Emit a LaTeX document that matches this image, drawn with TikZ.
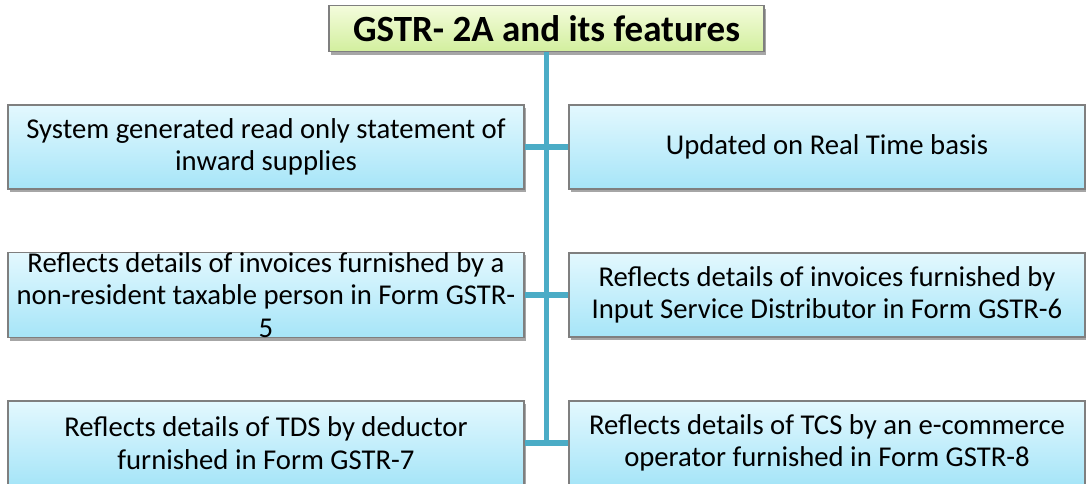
\documentclass[tikz,border=0pt]{standalone}
\usepackage{fontspec}
\setmainfont{Carlito}
\usetikzlibrary{shadows}
\definecolor{linec}{HTML}{4BACC6}
\definecolor{boxtop}{HTML}{E3F8FE}
\definecolor{boxbot}{HTML}{A6E5F8}
\definecolor{ttop}{HTML}{F4FCDC}
\definecolor{tbot}{HTML}{D2EF9E}
\definecolor{bord}{HTML}{7F7F7F}
\tikzset{
  featbox/.style={draw=bord, line width=1.2pt, top color=boxtop, bottom color=boxbot,
    minimum width=516pt, minimum height=84pt, inner sep=0pt, align=center,
    font=\fontsize{28.7}{32.5}\selectfont,
    drop shadow={shadow xshift=1.5pt, shadow yshift=-3pt, opacity=0.35, fill=black}},
  titlebox/.style={draw=bord, line width=1.2pt, top color=ttop, bottom color=tbot,
    minimum width=435pt, minimum height=46pt, inner sep=0pt,
    font=\fontsize{37}{44}\selectfont\bfseries,
    drop shadow={shadow xshift=1.5pt, shadow yshift=-3pt, opacity=0.35, fill=black}},
  conn/.style={draw=linec, line width=5.5pt}
}
\begin{document}
\begin{tikzpicture}[x=1pt,y=-1pt]
\useasboundingbox (0,0) rectangle (1086,483);
% connectors first
\coordinate (top) at (546.5,51);
\coordinate (j1) at (546.5,147);
\coordinate (j2) at (546.5,295);
\coordinate (j3) at (546.5,443);
\draw[conn] (top) -- (j3);
\node[featbox] (l1) at (266,147) {System generated read only statement of\\inward supplies};
\node[featbox] (r1) at (827,147) {Updated on Real Time basis};
\node[featbox] (l2) at (266,295) {Reflects details of invoices furnished by a\\non-resident taxable person in Form GSTR-\\5};
\node[featbox] (r2) at (827,295) {Reflects details of invoices furnished by\\Input Service Distributor in Form GSTR-6};
\node[featbox] (l3) at (266,443) {Reflects details of TDS by deductor\\furnished in Form GSTR-7};
\node[featbox] (r3) at (827,443) {Reflects details of TCS by an e-commerce\\operator furnished in Form GSTR-8};
\node[titlebox] (t) at (546.5,28.5) {GSTR- 2A and its features};
\draw[conn] (l1.east) -- (r1.west);
\draw[conn] (l2.east) -- (r2.west);
\draw[conn] (l3.east) -- (r3.west);
\draw[conn] (t.south) -- (j1);
\end{tikzpicture}
\end{document}
